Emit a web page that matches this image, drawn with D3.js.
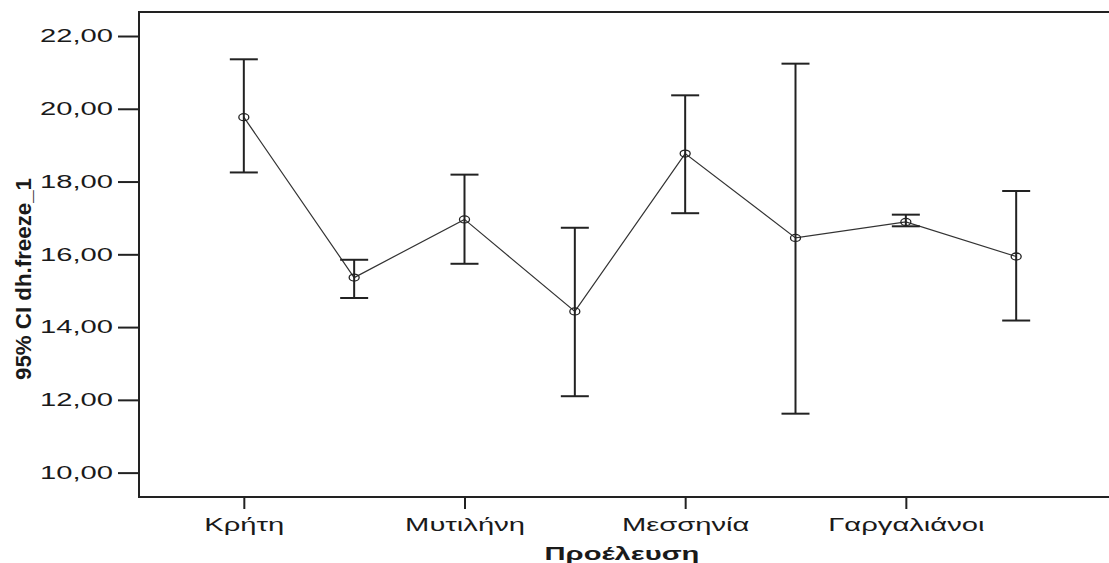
<!DOCTYPE html>
<html>
<head>
<meta charset="utf-8">
<script src="https://cdn.jsdelivr.net/npm/d3@7"></script>
<style>
  html, body { margin: 0; padding: 0; background: #fff; }
  svg { display: block; }
  text { font-family: "Liberation Sans", Arial, sans-serif; fill: #1a1a1a; }
</style>
</head>
<body>
<svg id="chart" width="1109" height="563"></svg>
<script>
// ---- data ----
const categories = ["Κρήτη", "", "Μυτιλήνη", "", "Μεσσηνία", "", "Γαργαλιάνοι", ""];
const means  = [19.77, 15.36, 16.96, 14.43, 18.77, 16.45, 16.89, 15.94];
const lower  = [18.25, 14.80, 15.74, 12.10, 17.13, 11.62, 16.77, 14.18];
const upper  = [21.36, 15.85, 18.19, 16.73, 20.37, 21.24, 17.09, 17.74];
const yTicks = [10, 12, 14, 16, 18, 20, 22];
const labelledCategories = [0, 2, 4, 6];
const xTitle = "Προέλευση";
const yTitle = "95% CI dh.freeze_1";

// ---- layout ----
const plotLeft = 139, plotTop = 12, plotBottom = 497, plotRight = 1121;
const stretch = 1.62; // horizontal stretch of the original picture

const svg = d3.select("#chart");

const x = d3.scalePoint()
  .domain(d3.range(categories.length))
  .range([plotLeft, plotRight])
  .padding(0.95);

const y = d3.scaleLinear()
  .domain([9.33, 22.66])
  .range([plotBottom, plotTop]);

const fmt = v => d3.format(".2f")(v).replace(".", ",");

function stretchText(sel) {
  sel.each(function() {
    const w = this.getComputedTextLength();
    if (w > 0) {
      d3.select(this).attr("textLength", w * stretch).attr("lengthAdjust", "spacingAndGlyphs");
    }
  });
}

// frame: top line
svg.append("line")
  .attr("x1", plotLeft).attr("x2", 1109)
  .attr("y1", plotTop).attr("y2", plotTop)
  .attr("stroke", "#222").attr("stroke-width", 2);

// y axis
const yAxis = svg.append("g")
  .attr("transform", `translate(${plotLeft},0)`)
  .call(d3.axisLeft(y).tickValues(yTicks).tickFormat(fmt).tickSize(21).tickPadding(5).tickSizeOuter(0));
yAxis.select(".domain").remove();
yAxis.selectAll(".tick line").attr("stroke", "#222").attr("stroke-width", 2);
yAxis.selectAll(".tick text")
  .style("font-size", "18px").style("font-family", "'Liberation Sans', Arial, sans-serif")
  .attr("fill", "#1a1a1a")
  .call(stretchText);
svg.append("line")
  .attr("x1", plotLeft).attr("x2", plotLeft)
  .attr("y1", plotTop - 1).attr("y2", plotBottom + 1)
  .attr("stroke", "#222").attr("stroke-width", 2);

// x axis
const xAxis = svg.append("g")
  .attr("transform", `translate(0,${plotBottom})`)
  .call(d3.axisBottom(x).tickValues(labelledCategories).tickFormat(i => categories[i]).tickSize(12).tickPadding(9).tickSizeOuter(0));
xAxis.select(".domain").remove();
xAxis.selectAll(".tick line").attr("stroke", "#222").attr("stroke-width", 2);
xAxis.selectAll(".tick text")
  .style("font-size", "18px").style("font-family", "'Liberation Sans', Arial, sans-serif")
  .attr("fill", "#1a1a1a")
  .call(stretchText);
svg.append("line")
  .attr("x1", plotLeft - 1).attr("x2", 1109)
  .attr("y1", plotBottom).attr("y2", plotBottom)
  .attr("stroke", "#222").attr("stroke-width", 2);

// axis titles
svg.append("text")
  .attr("x", 622).attr("y", 560)
  .attr("text-anchor", "middle")
  .style("font-size", "18px").style("font-weight", "bold")
  .text(xTitle)
  .call(stretchText);

svg.append("g")
  .attr("transform", "translate(23,279) rotate(-90) scale(1,1.45)")
  .append("text")
  .attr("x", 0).attr("y", 0)
  .attr("text-anchor", "middle")
  .attr("dominant-baseline", "central")
  .style("font-size", "15px").style("font-weight", "bold")
  .attr("textLength", 202).attr("lengthAdjust", "spacingAndGlyphs")
  .text(yTitle);

// data
const idx = d3.range(categories.length);
const capW = 28;

// connecting line
svg.append("path")
  .datum(idx)
  .attr("fill", "none")
  .attr("stroke", "#333")
  .attr("stroke-width", 1.2)
  .attr("d", d3.line().x(i => x(i)).y(i => y(means[i])));

const eb = svg.append("g").selectAll("g").data(idx).join("g");
eb.append("line")
  .attr("x1", i => x(i)).attr("x2", i => x(i))
  .attr("y1", i => y(lower[i])).attr("y2", i => y(upper[i]))
  .attr("stroke", "#222").attr("stroke-width", 2);
eb.append("line")
  .attr("x1", i => x(i) - capW / 2).attr("x2", i => x(i) + capW / 2)
  .attr("y1", i => y(upper[i])).attr("y2", i => y(upper[i]))
  .attr("stroke", "#222").attr("stroke-width", 2);
eb.append("line")
  .attr("x1", i => x(i) - capW / 2).attr("x2", i => x(i) + capW / 2)
  .attr("y1", i => y(lower[i])).attr("y2", i => y(lower[i]))
  .attr("stroke", "#222").attr("stroke-width", 2);
eb.append("ellipse")
  .attr("cx", i => x(i)).attr("cy", i => y(means[i]))
  .attr("rx", 5).attr("ry", 3.5)
  .attr("fill", "none")
  .attr("stroke", "#222").attr("stroke-width", 1.3);
</script>
</body>
</html>
